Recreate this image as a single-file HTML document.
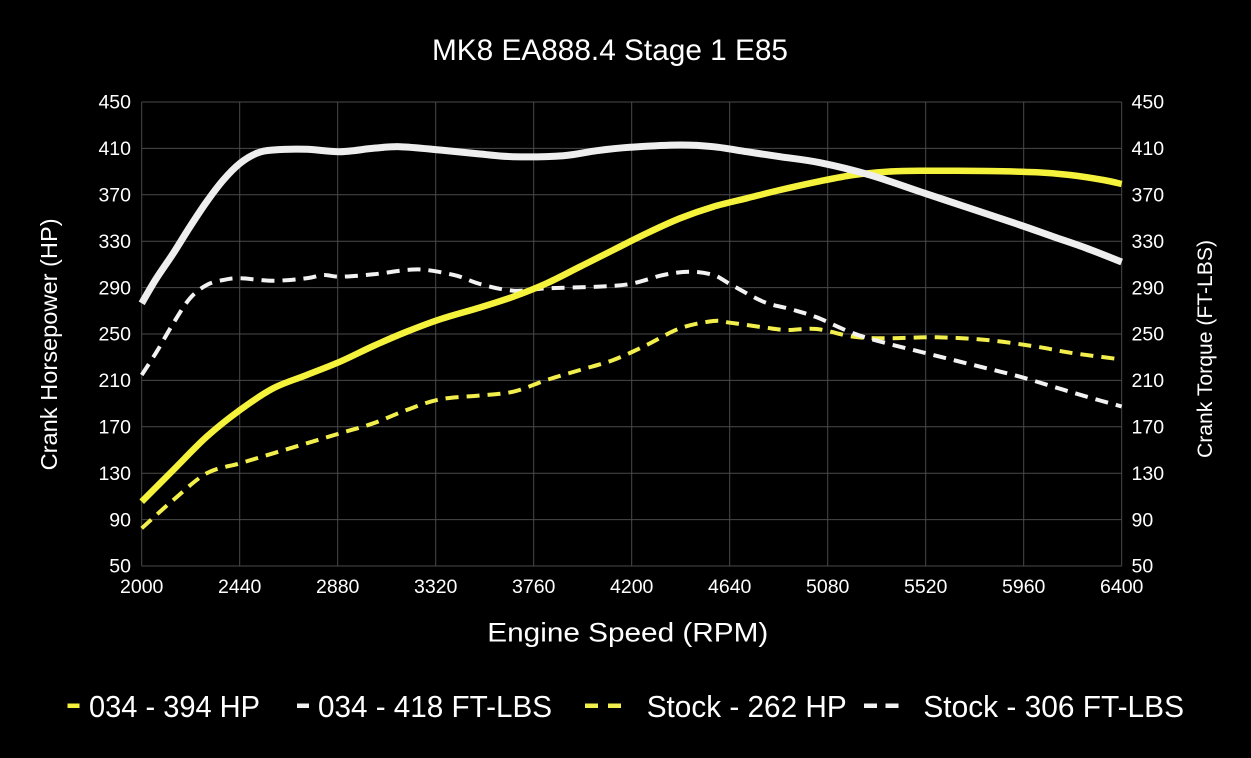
<!DOCTYPE html>
<html>
<head>
<meta charset="utf-8">
<style>
html,body{margin:0;padding:0;background:#000;}
svg{display:block;}
text{font-family:"Liberation Sans",Arial,sans-serif;fill:#fff;}
</style>
</head>
<body>
<svg width="1251" height="758" viewBox="0 0 1251 758" xmlns="http://www.w3.org/2000/svg">
<rect x="0" y="0" width="1251" height="758" fill="#000"/>
<!-- grid -->
<g stroke="#4a4a4a" stroke-width="1" fill="none">
<line x1="141.7" y1="102" x2="1121.7" y2="102"/>
<line x1="141.7" y1="148.4" x2="1121.7" y2="148.4"/>
<line x1="141.7" y1="194.8" x2="1121.7" y2="194.8"/>
<line x1="141.7" y1="241.2" x2="1121.7" y2="241.2"/>
<line x1="141.7" y1="287.6" x2="1121.7" y2="287.6"/>
<line x1="141.7" y1="334" x2="1121.7" y2="334"/>
<line x1="141.7" y1="380.4" x2="1121.7" y2="380.4"/>
<line x1="141.7" y1="426.8" x2="1121.7" y2="426.8"/>
<line x1="141.7" y1="473.2" x2="1121.7" y2="473.2"/>
<line x1="141.7" y1="519.6" x2="1121.7" y2="519.6"/>
<line x1="141.7" y1="566" x2="1121.7" y2="566"/>
<line x1="141.7" y1="102" x2="141.7" y2="566"/>
<line x1="239.7" y1="102" x2="239.7" y2="566"/>
<line x1="337.7" y1="102" x2="337.7" y2="566"/>
<line x1="435.7" y1="102" x2="435.7" y2="566"/>
<line x1="533.7" y1="102" x2="533.7" y2="566"/>
<line x1="631.7" y1="102" x2="631.7" y2="566"/>
<line x1="729.7" y1="102" x2="729.7" y2="566"/>
<line x1="827.7" y1="102" x2="827.7" y2="566"/>
<line x1="925.7" y1="102" x2="925.7" y2="566"/>
<line x1="1023.7" y1="102" x2="1023.7" y2="566"/>
<line x1="1121.7" y1="102" x2="1121.7" y2="566"/>
</g>

<!-- title -->
<text x="610" y="60" font-size="30" text-anchor="middle" textLength="356" lengthAdjust="spacingAndGlyphs">MK8 EA888.4 Stage 1 E85</text>

<!-- left ticks -->
<g font-size="19.5" text-anchor="end">
<text x="131" y="108.7">450</text>
<text x="131" y="155.1">410</text>
<text x="131" y="201.5">370</text>
<text x="131" y="247.9">330</text>
<text x="131" y="294.3">290</text>
<text x="131" y="340.7">250</text>
<text x="131" y="387.1">210</text>
<text x="131" y="433.5">170</text>
<text x="131" y="479.9">130</text>
<text x="131" y="526.3">90</text>
<text x="131" y="572.7">50</text>
</g>
<!-- right ticks -->
<g font-size="19.5" text-anchor="start">
<text x="1131.5" y="108.7">450</text>
<text x="1131.5" y="155.1">410</text>
<text x="1131.5" y="201.5">370</text>
<text x="1131.5" y="247.9">330</text>
<text x="1131.5" y="294.3">290</text>
<text x="1131.5" y="340.7">250</text>
<text x="1131.5" y="387.1">210</text>
<text x="1131.5" y="433.5">170</text>
<text x="1131.5" y="479.9">130</text>
<text x="1131.5" y="526.3">90</text>
<text x="1131.5" y="572.7">50</text>
</g>
<!-- x ticks -->
<g font-size="19.5" text-anchor="middle">
<text x="141.7" y="593">2000</text>
<text x="239.7" y="593">2440</text>
<text x="337.7" y="593">2880</text>
<text x="435.7" y="593">3320</text>
<text x="533.7" y="593">3760</text>
<text x="631.7" y="593">4200</text>
<text x="729.7" y="593">4640</text>
<text x="827.7" y="593">5080</text>
<text x="925.7" y="593">5520</text>
<text x="1023.7" y="593">5960</text>
<text x="1121.7" y="593">6400</text>
</g>

<!-- axis titles -->
<text x="627.8" y="641.7" font-size="27" text-anchor="middle" textLength="281" lengthAdjust="spacingAndGlyphs">Engine Speed (RPM)</text>
<text transform="translate(57,344.4) rotate(-90)" font-size="23" text-anchor="middle" textLength="252" lengthAdjust="spacingAndGlyphs">Crank Horsepower (HP)</text>
<text transform="translate(1212,349) rotate(-90)" font-size="21" text-anchor="middle" textLength="218" lengthAdjust="spacingAndGlyphs">Crank Torque (FT-LBS)</text>

<!-- series -->
<g fill="none" stroke-linejoin="round">
<path id="yd" stroke="#f2ef4c" stroke-width="4" stroke-dasharray="13 8" stroke-linecap="butt"
 d="M141.7,528.3 L173.3,500 L206.7,473.3 L240,463.3 L273.3,453.3 L306.7,443.3 L340,433.3 L373.3,423.3 L406.7,410 L440,399.3 L480,395.5 L513.3,391.7 L546.7,380 L580,370 L613.3,360 L646.7,345 L680,328.3 L713.3,321 L730,322.7 L763.3,327.3 L786.7,330 L816.7,329 L853.3,336.7 L886.7,338.3 L936.7,337.3 L986.7,340 L1036.7,346.7 L1070,352.7 L1121.7,359.5"/>
<path id="wd" stroke="#f2f2f2" stroke-width="4" stroke-dasharray="13 8" stroke-linecap="butt"
 d="M141.7,375 L156.7,351.7 L173.3,323.3 L190,298.3 L206.7,285 L223.3,280 L240,278.3 L273.3,280.7 L306.7,278.3 L323.3,275 L340,276.7 L373.3,274.3 L406.7,270 L426.7,270 L456.7,275.7 L480,284 L513.3,290.7 L546.7,288.3 L596.7,286.7 L630,284 L663.3,275 L690,271.7 L713.3,275 L730,284 L763.3,301.7 L790,309 L816.7,317.3 L853.3,333.3 L886.7,343.3 L920,351.7 L953.3,360 L986.7,368.3 L1020,376.7 L1053.3,386.7 L1086.7,396.7 L1121.7,406.5"/>
<path id="ys" stroke="#f5f23c" stroke-width="6.5" stroke-linecap="butt"
 d="M141.7,501.7 L173.3,470 L206.7,436.7 L240,410 L273.3,388.3 L306.7,375 L340,361.7 L373.3,346 L406.7,331.7 L440,319.3 L480,307.5 L513.3,296.7 L546.7,283.3 L580,266.7 L613.3,250 L646.7,233.3 L680,218.3 L713.3,206.7 L746.7,198.3 L780,190 L820,181.2 L853.3,175 L886.7,171.7 L920,170.7 L986.7,171 L1036.7,172.3 L1070,175 L1103.3,180 L1121.7,184"/>
<path id="ws" stroke="#eeeeee" stroke-width="7" stroke-linecap="butt"
 d="M141.7,303.3 L156,279 L173.3,253.3 L190,226.7 L206.7,201.7 L223.3,180 L240,163.3 L256.7,153.3 L273.3,150 L306.7,149.3 L340,151.7 L373.3,148.3 L400,146.7 L440,150 L480,154 L513.3,156.7 L563.3,155.7 L596.7,150.7 L630,147.3 L680,145 L713.3,146.7 L746.7,151.7 L780,156.7 L820,162.7 L870,175 L920,191.7 L970,208.3 L1020,225 L1053.3,236.7 L1086.7,248.3 L1121.7,262"/>
</g>

<!-- legend -->
<g>
<rect x="67.5" y="703.5" width="12" height="4.5" fill="#f5f23c"/>
<text x="89" y="717" font-size="31" textLength="171" lengthAdjust="spacingAndGlyphs">034 - 394 HP</text>
<rect x="297" y="703.5" width="12" height="4.5" fill="#f2f2f2"/>
<text x="318" y="717" font-size="31" textLength="234" lengthAdjust="spacingAndGlyphs">034 - 418 FT-LBS</text>
<rect x="585" y="703.5" width="13" height="4.5" fill="#f2ef4c"/>
<rect x="608" y="703.5" width="13" height="4.5" fill="#f2ef4c"/>
<text x="646.7" y="717" font-size="31" textLength="200" lengthAdjust="spacingAndGlyphs">Stock - 262 HP</text>
<rect x="864" y="703.5" width="13" height="4.5" fill="#f2f2f2"/>
<rect x="885.5" y="703.5" width="13" height="4.5" fill="#f2f2f2"/>
<text x="923.4" y="717" font-size="31" textLength="260.6" lengthAdjust="spacingAndGlyphs">Stock - 306 FT-LBS</text>
</g>
</svg>
<script>
(function(){
  function smooth(id){
    var el=document.getElementById(id);
    var d=el.getAttribute('d');
    var nums=d.replace(/[ML]/g,' ').trim().split(/[\s,]+/).map(Number);
    var p=[];
    for(var i=0;i<nums.length;i+=2)p.push([nums[i],nums[i+1]]);
    var s='M'+p[0][0]+','+p[0][1];
    for(var i=0;i<p.length-1;i++){
      var p0=p[i-1]||p[i],p1=p[i],p2=p[i+1],p3=p[i+2]||p[i+1];
      var c1x=p1[0]+(p2[0]-p0[0])/6,c1y=p1[1]+(p2[1]-p0[1])/6;
      var c2x=p2[0]-(p3[0]-p1[0])/6,c2y=p2[1]-(p3[1]-p1[1])/6;
      s+=' C'+c1x.toFixed(2)+','+c1y.toFixed(2)+' '+c2x.toFixed(2)+','+c2y.toFixed(2)+' '+p2[0]+','+p2[1];
    }
    el.setAttribute('d',s);
  }
  ['yd','wd','ys','ws'].forEach(smooth);
})();
</script>
</body>
</html>
